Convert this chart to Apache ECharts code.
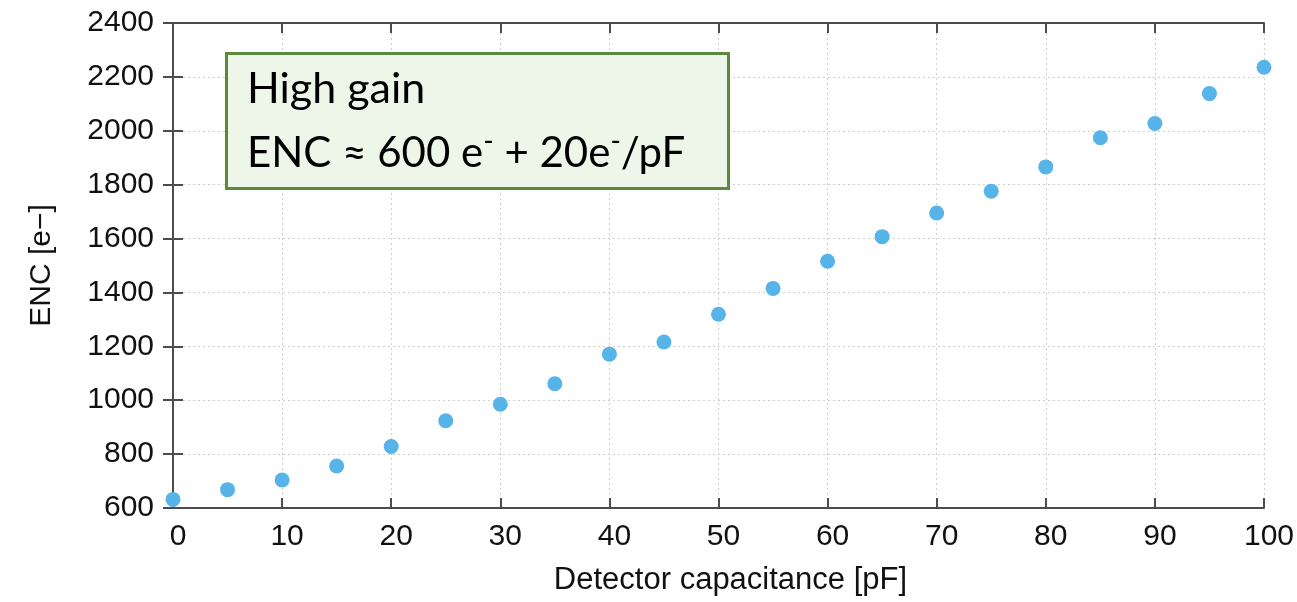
<!DOCTYPE html>
<html>
<head>
<meta charset="utf-8">
<script src="https://cdn.jsdelivr.net/npm/echarts@6/dist/echarts.min.js"></script>
<style>html,body{margin:0;padding:0;background:#fff;}#c{width:1297px;height:602px;}</style>
</head>
<body>
<div id="c"></div>
<script>
const capacitance = [0,5,10,15,20,25,30,35,40,45,50,55,60,65,70,75,80,85,90,95,100];
const enc = [632,668,704,756,828,924,985,1061,1171,1216,1319,1415,1516,1607,1695,1776,1866,1974,2027,2138,2236];
const xTitle = 'Detector capacitance [pF]';
const yTitle = 'ENC [e\u2212]';
const boxLine1 = 'High gain';

const chart = echarts.init(document.getElementById('c'));
const axisColor = '#4d4d4d';
const font = 'Liberation Sans';
const tickLbl = {fontFamily: font, fontSize: 30, color: '#111', formatter: v => String(v)};
const split = {show: true, lineStyle: {color: '#cfcfcf', type: [2, 3], width: 1}};
chart.setOption({
  animation: false,
  backgroundColor: '#fff',
  grid: {left: 173, right: 33, top: 23, bottom: 94},
  xAxis: [{
    type: 'value', min: 0, max: 100, interval: 10, position: 'bottom',
    name: xTitle, nameLocation: 'middle', nameGap: 57,
    nameTextStyle: {fontFamily: font, fontSize: 31, color: '#111', padding: [0, 0, 0, 24]},
    axisLine: {show: true, lineStyle: {color: axisColor, width: 2}},
    axisTick: {show: true, inside: true, length: 10, lineStyle: {color: axisColor, width: 2}},
    axisLabel: Object.assign({margin: 14, padding: [0, 0, 0, 10]}, tickLbl),
    splitLine: split
  }, {
    type: 'value', min: 0, max: 100, interval: 10, position: 'top',
    axisLine: {show: true, lineStyle: {color: axisColor, width: 2}},
    axisTick: {show: true, inside: true, length: 10, lineStyle: {color: axisColor, width: 2}},
    axisLabel: {show: false}, splitLine: {show: false}
  }],
  yAxis: [{
    type: 'value', min: 600, max: 2400, interval: 200, position: 'left',
    name: yTitle, nameLocation: 'middle', nameGap: 116,
    nameTextStyle: {fontFamily: font, fontSize: 30, color: '#111'},
    axisLine: {show: true, lineStyle: {color: axisColor, width: 2}},
    axisTick: {show: true, inside: true, length: 10, lineStyle: {color: axisColor, width: 2}},
    axisLabel: Object.assign({margin: 19}, tickLbl),
    splitLine: split
  }, {
    type: 'value', min: 600, max: 2400, interval: 200, position: 'right',
    axisLine: {show: true, lineStyle: {color: axisColor, width: 2}},
    axisTick: {show: true, inside: true, length: 10, lineStyle: {color: axisColor, width: 2}},
    axisLabel: {show: false}, splitLine: {show: false}
  }],
  series: [{
    type: 'scatter',
    data: capacitance.map((c, i) => [c, enc[i]]),
    symbol: 'circle', symbolSize: 15,
    itemStyle: {color: '#56b4e9', opacity: 1},
    z: 5
  }],
  graphic: [{
    type: 'rect', left: 225, top: 52, z: 10,
    shape: {width: 502, height: 135},
    style: {fill: '#eef5e9', stroke: '#5b8a3c', lineWidth: 3}
  }, {
    type: 'text', left: 247, top: 68, z: 11,
    style: {text: boxLine1, fontFamily: 'Lato', fontSize: 43, fill: '#000'}
  }, {
    type: 'text', left: 247, top: 126, z: 11,
    style: {
      text: '{a|ENC \u2248 600 e}{s|-}{a| + 20e}{s|-}{a|/pF}',
      rich: {
        a: {fontFamily: 'Lato', fontSize: 42, color: '#000', lineHeight: 48, verticalAlign: 'bottom'},
        s: {fontFamily: 'Lato', fontSize: 28, color: '#000', lineHeight: 48, verticalAlign: 'top', padding: [2, 0, 0, 0]}
      }
    }
  }]
});
</script>
</body>
</html>
